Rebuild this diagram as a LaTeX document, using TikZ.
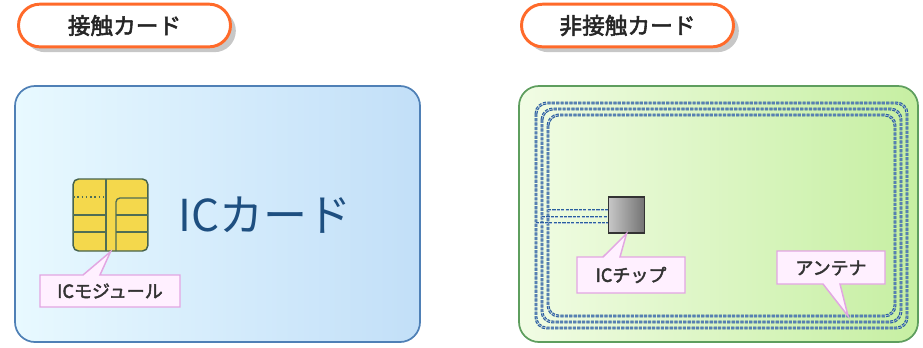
\documentclass[tikz,border=0pt]{standalone}
\usepackage{fontspec}
\newfontfamily\jp{Noto Sans CJK JP}
\newfontfamily\jpb[FakeBold=2.4]{Noto Sans CJK JP}
\usetikzlibrary{shadows}

\definecolor{arancio}{HTML}{FF6A2A}
\definecolor{bluchiaro}{HTML}{E8F9FF}
\definecolor{blumedio}{HTML}{C2DFF8}
\definecolor{blubordo}{HTML}{4F80B6}
\definecolor{blutesto}{HTML}{1E4F80}
\definecolor{verdechiaro}{HTML}{F1FCE4}
\definecolor{verdemedio}{HTML}{C6EFA2}
\definecolor{verdebordo}{HTML}{5E9E5E}
\definecolor{antenna}{HTML}{2A5F9E}
\definecolor{giallo}{HTML}{F4D84C}
\definecolor{pista}{HTML}{4F6E55}
\definecolor{rosa}{HTML}{FFF0FF}
\definecolor{rosabordo}{HTML}{E2A6E2}

\tikzset{
  titolo/.style={draw=arancio, line width=2.2pt, fill=white,
    rounded corners=16pt, minimum width=159pt, minimum height=32pt,
    font=\jpb\fontsize{17}{17}\selectfont, text=black!85,
    drop shadow={shadow xshift=4pt, shadow yshift=-4pt, fill=black!22, opacity=1}},
  carta/.style={line width=1.3pt, rounded corners=15pt},
  spira/.style={draw=antenna, line width=0.85pt, double=antenna!40,
    double distance=0.5pt, dash pattern=on 2.4pt off 0.9pt, rounded corners=8pt},
  fumetto/.style={fill=rosa, draw=rosabordo, line width=1.1pt},
  testofumetto/.style={font=\jpb\fontsize{13.5}{14}\selectfont, text=black!80},
  pistamod/.style={draw=pista, line width=1pt}
}

\begin{document}
\begin{tikzpicture}[x=0.75pt,y=-0.75pt]
  \useasboundingbox (0,0) rectangle (923,347);

  % titoli
  \node[titolo] (tcont) at (124.5,25.5) {接触カード};
  \node[titolo] (tnocont) at (627.5,25.5) {非接触カード};

  % carta a contatto
  \draw[carta, draw=blubordo, left color=bluchiaro, right color=blumedio]
    (15,86) rectangle (420,342);
  \node[font=\jp\fontsize{33}{33}\selectfont, text=blutesto] (nome) at (265,215) {ICカード};

  % modulo IC
  \node[draw=pista!90!black, line width=1.1pt, fill=giallo, rounded corners=4pt,
    minimum width=56pt, minimum height=54pt] (modulo) at (110.5,215) {};
  \draw[pistamod] (106,179) -- (106,251);
  \draw[pistamod, rounded corners=3pt] (148,198) -| (116,251);
  \draw[pistamod, line width=1.2pt, dotted] (73,197) -- (106,197);
  \foreach \y in {215,232} {
    \draw[pistamod] (73,\y) -- (106,\y);
    \draw[pistamod] (116,\y) -- (148,\y);
  }

  % fumetto modulo
  \draw[fumetto] (40,275) -- (83,275) -- (modulo.south) -- (100,275)
    -- (180,275) -- (180,307) -- (40,307) -- cycle;
  \node[testofumetto] (lmod) at (110,291) {ICモジュール};

  % carta senza contatto
  \draw[carta, draw=verdebordo, left color=verdechiaro, right color=verdemedio]
    (519,86) rectangle (918,342);

  % antenna (tre spire)
  \draw[spira] (536,103) rectangle (907,328);
  \draw[spira] (542,109) rectangle (901,322);
  \draw[spira] (548,115) rectangle (895,316);

  % chip
  \node[draw=black!80, line width=1pt, left color=black!22, right color=black!55,
    minimum width=27pt, minimum height=27pt] (chip) at (626.5,215) {};
  \foreach \x/\y in {536/223,542/217,548/210}
    \draw[spira, rounded corners=0pt] (\x,\y) -- (chip.west |- 0,\y);

  % fumetto chip
  \draw[fumetto] (577,257) -- (603,257) -- (chip.south) -- (620,257)
    -- (685,257) -- (685,293) -- (577,293) -- cycle;
  \node[testofumetto] (lchip) at (631,275) {ICチップ};

  % fumetto antenna
  \coordinate (pant) at (848,316);
  \draw[fumetto] (777,251) -- (885,251) -- (885,284) -- (840,284)
    -- (pant) -- (823,284) -- (777,284) -- cycle;
  \node[testofumetto] (lant) at (831,268) {アンテナ};
\end{tikzpicture}
\end{document}
